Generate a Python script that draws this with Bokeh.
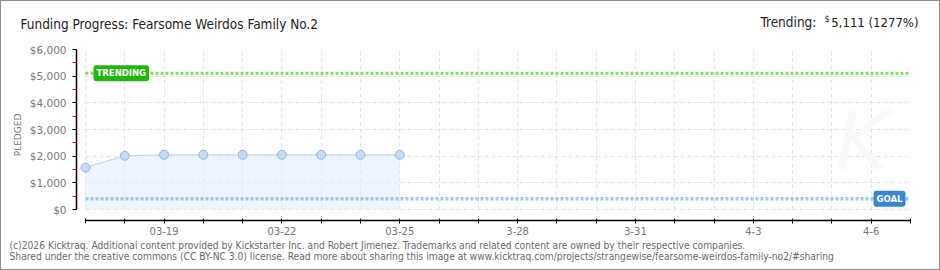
from bokeh.plotting import figure
from bokeh.layouts import column
from bokeh.models import FixedTicker, Label, Range1d
from bokeh.embed import file_html
from bokeh.resources import INLINE
from bokeh.core.properties import value

# ---------------- data ----------------
all_days = ["03-17", "03-18", "03-19", "03-20", "03-21", "03-22", "03-23", "03-24",
            "03-25", "03-26", "03-27", "03-28", "03-29", "03-30", "03-31", "04-01",
            "04-02", "04-03", "04-04", "04-05", "04-06", "04-07"]
dates = ["03-17", "03-18", "03-19", "03-20", "03-21", "03-22", "03-23", "03-24", "03-25"]
pledged = [1570, 2015, 2050, 2050, 2050, 2050, 2050, 2050, 2050]
goal = 400
trending = 5111
trending_pct = 1277
x_tick_days = ["03-19", "03-22", "03-25", "03-28", "03-31", "04-03", "04-06"]
x_tick_labels = ["03-19", "03-22", "03-25", "3-28", "3-31", "4-3", "4-6"]
y_ticks = [0, 1000, 2000, 3000, 4000, 5000, 6000]
y_minor = [500, 1500, 2500, 3500, 4500, 5500]
y_tick_labels = ["$0", "$1,000", "$2,000", "$3,000", "$4,000", "$5,000", "$6,000"]
title_text = "Funding Progress: Fearsome Weirdos Family No.2"
footer1 = ("(c)2026 Kicktraq. Additional content provided by Kickstarter Inc. and Robert Jimenez. "
           "Trademarks and related content are owned by their respective companies.")
footer2 = ("Shared under the creative commons (CC BY-NC 3.0) license. Read more about sharing this "
           "image at www.kicktraq.com/projects/strangewise/fearsome-weirdos-family-no2/#sharing")

# ---------------- derived ----------------
xs = [all_days.index(d) for d in dates]
day_idx = list(range(len(all_days)))
last_day = day_idx[-1]

HEADF = "DejaVu Sans Condensed"
FOOTF = "DejaVu Sans Condensed"
TICKF = "DejaVu Sans"
W = 938


def text_panel(height):
    f = figure(width=W, height=height, output_backend="svg", toolbar_location=None,
               x_range=Range1d(0, W), y_range=Range1d(height, 0),
               x_axis_type=None, y_axis_type=None,
               min_border=0, min_border_left=0, min_border_right=0,
               min_border_top=0, min_border_bottom=0)
    f.frame_align = False
    f.outline_line_color = None
    f.grid.visible = False
    f.background_fill_color = "white"
    f.border_fill_color = "white"
    return f


# ---------------- header ----------------
head = text_panel(40)
head.text(x=[19], y=[22.5], text=[title_text], text_font=value(HEADF),
          text_font_size="13.5px", text_color="#222222", text_baseline="middle")
head.text(x=[759], y=[20.5], text=["Trending:"], text_font=value(HEADF),
          text_font_size="13.5px", text_color="#222222", text_baseline="middle")
head.text(x=[823], y=[17.5], text=["$"], text_font=value(HEADF),
          text_font_size="9px", text_color="#222222", text_baseline="middle")
head.text(x=[917], y=[20.5], text=[f"{trending:,} ({trending_pct}%)"], text_font=value(HEADF),
          text_font_size="13px", text_color="#222222", text_baseline="middle",
          text_align="right")

# ---------------- main chart ----------------
p = figure(width=W, height=197, output_backend="svg", toolbar_location=None,
           x_range=Range1d(-0.229, last_day), y_range=Range1d(-412, y_ticks[-1]),
           min_border_left=75, min_border_right=29, min_border_top=8, min_border_bottom=18)
p.frame_align = False
p.outline_line_color = None
p.background_fill_color = "white"
p.border_fill_color = "white"

# grids
p.xgrid.ticker = FixedTicker(ticks=day_idx)
p.ygrid.ticker = FixedTicker(ticks=y_ticks)
for g in (p.xgrid, p.ygrid):
    g.grid_line_color = "#e2e2e2"
    g.grid_line_dash = "4 3"
    g.grid_line_width = 1
p.xgrid.cross_bounds = (y_ticks[0], y_ticks[-1])
p.ygrid.cross_bounds = (day_idx[0], last_day)

# x axis
xa = p.xaxis[0]
xa.ticker = FixedTicker(ticks=day_idx)
overrides = {i: "" for i in day_idx}
overrides.update({all_days.index(d): l for d, l in zip(x_tick_days, x_tick_labels)})
xa.major_label_overrides = overrides
xa.bounds = (day_idx[0], last_day)
xa.axis_line_color = "black"
xa.axis_line_width = 1.5
xa.major_tick_line_color = "black"
xa.major_tick_in = 2
xa.major_tick_out = 3
xa.minor_tick_line_color = None
xa.major_label_text_font = TICKF
xa.major_label_text_font_size = "10px"
xa.major_label_text_color = "#777777"
xa.major_label_standoff = 3

# y axis
ya = p.yaxis[0]
ya.ticker = FixedTicker(ticks=y_ticks, minor_ticks=y_minor)
ya.major_label_overrides = {t: l for t, l in zip(y_ticks, y_tick_labels)}
ya.bounds = (y_ticks[0], y_ticks[-1])
ya.axis_line_color = "black"
ya.axis_line_width = 1.5
ya.major_tick_line_color = "black"
ya.major_tick_in = 0
ya.major_tick_out = 4
ya.minor_tick_line_color = "#e00000"
ya.minor_tick_in = 0
ya.minor_tick_out = 4
ya.major_label_text_font = TICKF
ya.major_label_text_font_size = "10.5px"
ya.major_label_text_color = "#777777"
ya.major_label_standoff = 6
ya.axis_label = "PLEDGED"
ya.axis_label_text_font = TICKF
ya.axis_label_text_font_size = "9px"
ya.axis_label_text_font_style = "normal"
ya.axis_label_text_color = "#777777"
ya.axis_label_standoff = 4

# area + line + points
p.varea(x=xs, y1=[0] * len(xs), y2=pledged, fill_color="#e3eefc", fill_alpha=0.6)
p.line(x=xs, y=pledged, line_color="#bcd5f2", line_width=1.2)
p.scatter(x=xs, y=pledged, size=9, fill_color="#c4dbf6", line_color="#98b2d6", line_width=1)

# trending and goal lines
p.line(x=[day_idx[0], last_day], y=[trending, trending], line_color="#7fdc5c",
       line_width=3, line_dash="3 2")
p.line(x=[day_idx[0], last_day], y=[goal, goal], line_color="#9fc5f0",
       line_width=3.5, line_dash="3 2")

# labels on lines
p.add_layout(Label(x=day_idx[0], y=trending, x_offset=8, text="TRENDING",
                   text_font=TICKF, text_font_size="8.5px", text_font_style="bold",
                   text_color="white", text_baseline="middle", text_align="left",
                   background_fill_color="#1fb80a", border_radius=3, padding=3))
p.add_layout(Label(x=last_day, y=goal, x_offset=-5, text="GOAL",
                   text_font=TICKF, text_font_size="8.5px", text_font_style="bold",
                   text_color="white", text_baseline="middle", text_align="right",
                   background_fill_color="#3a86d6", border_radius=3, padding=3))

# faint watermark
p.add_layout(Label(x=last_day, y=y_ticks[1], x_offset=-75, y_offset=-5, text="K",
                   text_font="DejaVu Sans", text_font_size="80px",
                   text_font_style="italic", text_color="#f8f8f8", text_baseline="bottom"))

# ---------------- footer ----------------
foot = text_panel(31)
foot.text(x=[8, 8], y=[7, 18], text=[footer1, footer2], text_font=value(FOOTF),
          text_font_size="10.2px", text_color="#6a6a6a", text_baseline="middle")

layout = column(head, p, foot, spacing=0, styles={"border": "1px solid #8c8c8c"})

open("out.html", "w").write(file_html(layout, INLINE))
